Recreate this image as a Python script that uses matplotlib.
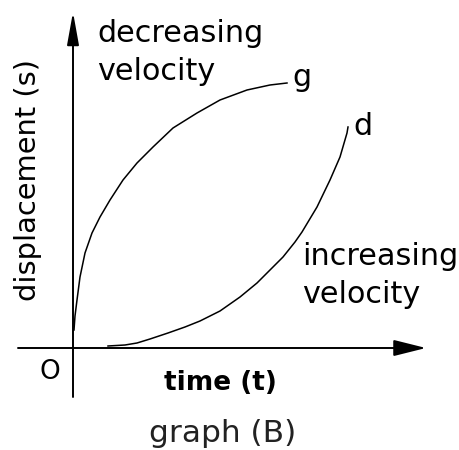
import matplotlib.pyplot as plt

# curve g: decreasing velocity (time, displacement)
g_t = [1, 2, 4, 7, 12, 19, 27, 37, 50, 64, 80, 100, 124, 147, 174, 197, 214]
g_s = [18, 32, 48, 71, 95, 115, 131, 148, 168, 185, 201, 220, 235, 248, 258, 263, 265]

# curve d: increasing velocity
d_t = [35, 52, 64, 77, 95, 112, 127, 147, 167, 184, 210, 222, 229, 244, 257, 267, 274, 275]
d_s = [2, 3, 5, 9, 15, 21, 27, 37, 51, 65, 91, 106, 116, 141, 168, 191, 215, 221]

fig = plt.figure(figsize=(4.6, 4.5), dpi=100)
ax = fig.add_axes([0, 0, 1, 1])
ax.set_xlim(-73, 387)
ax.set_ylim(-102, 348)
ax.axis('off')

# axes with arrows
ax.annotate('', xy=(353, 0), xytext=(-55, 0),
            arrowprops=dict(arrowstyle='-|>,head_length=1.0,head_width=0.25',
                            mutation_scale=20, color='black', lw=1.4,
                            shrinkA=0, shrinkB=0))
ax.annotate('', xy=(0, 336), xytext=(0, -49),
            arrowprops=dict(arrowstyle='-|>,head_length=1.0,head_width=0.18',
                            mutation_scale=20, color='black', lw=1.4,
                            shrinkA=0, shrinkB=0))

ax.plot(g_t, g_s, color='black', lw=1.1, solid_joinstyle='round')
ax.plot(d_t, d_s, color='black', lw=1.1, solid_joinstyle='round')

fs = 21.8
ax.text(24, 306, 'decreasing', fontsize=fs, ha='left', va='baseline')
ax.text(24, 268, 'velocity', fontsize=fs, ha='left', va='baseline')
ax.text(219, 262, 'g', fontsize=fs, ha='left', va='baseline')
ax.text(280, 213, 'd', fontsize=fs, ha='left', va='baseline')
ax.text(229, 83, 'increasing', fontsize=fs, ha='left', va='baseline')
ax.text(229, 45, 'velocity', fontsize=fs, ha='left', va='baseline')
ax.text(-23, -24, 'O', fontsize=19, ha='center', va='center')
ax.text(147, -35, 'time (t)', fontsize=19, fontweight='bold', ha='center', va='center')
ax.text(150, -85, 'graph (B)', fontsize=22.5, color='#222222', ha='center', va='center')
ax.text(-45, 168, 'displacement (s)', fontsize=20.8, rotation=90, ha='center', va='center')

fig.savefig('out.png', dpi=100)
